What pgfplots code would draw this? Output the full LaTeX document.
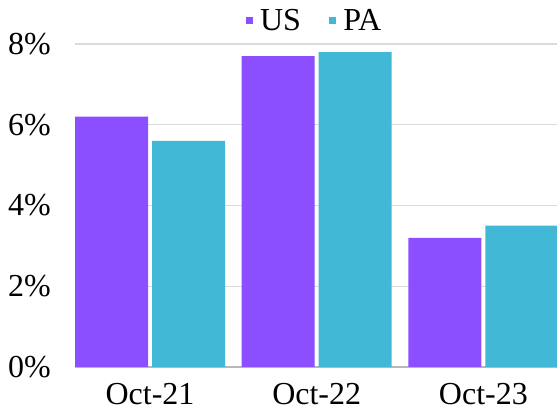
\documentclass[border=0pt]{standalone}
\usepackage{fontspec}
\setmainfont{Liberation Serif}
\usepackage{pgfplots}
\pgfplotsset{compat=1.18}
\definecolor{usc}{HTML}{8C4FFF}
\definecolor{pac}{HTML}{41B8D5}
\begin{document}
\begin{tikzpicture}
\begin{axis}[
    scale only axis,
    width=482pt, height=323pt,
    xmin=-0.45, xmax=2.4415,
    ymin=0, ymax=8,
    ybar=4pt, bar width=73pt,
    xtick={0,1,2},
    xticklabels={Oct-21,Oct-22,Oct-23},
    ytick={2,4,6,8},
    yticklabels={2\%,4\%,6\%,8\%},
    extra y ticks={0},
    extra y tick labels={0\%},
    extra y tick style={grid style={draw=black!28, line width=1.2pt}},
    ymajorgrids,
    grid style={draw=black!14, line width=1.2pt},
    axis line style={draw=none},
    major tick length=0pt,
    tick label style={font=\fontsize{32}{36}\selectfont, inner sep=0pt},
    yticklabel style={xshift=-24pt},
    xticklabel style={yshift=-16pt},
    /pgf/number format/assume math mode=true,
    legend columns=2,
    legend style={draw=none, fill=none, inner sep=0pt,
        font=\fontsize{32}{36}\selectfont,
        at={(0.497,1.073)}, anchor=center,
        /tikz/every odd column/.append style={column sep=5pt},
        /tikz/every even column/.append style={column sep=26pt}},
    legend cell align=left,
]
\addplot[fill=usc, draw=none,
    legend image code/.code={\fill[usc] (0pt,-3.6pt) rectangle (7.3pt,3.6pt);}]
    coordinates {(0,6.2) (1,7.7) (2,3.2)};
\addlegendentry{US}
\addplot[fill=pac, draw=none,
    legend image code/.code={\fill[pac] (0pt,-3.6pt) rectangle (7.3pt,3.6pt);}]
    coordinates {(0,5.6) (1,7.8) (2,3.5)};
\addlegendentry{PA}
\end{axis}
\pgfresetboundingbox
\path (-75pt,-44pt) rectangle (482pt,367pt);
\end{tikzpicture}
\end{document}
